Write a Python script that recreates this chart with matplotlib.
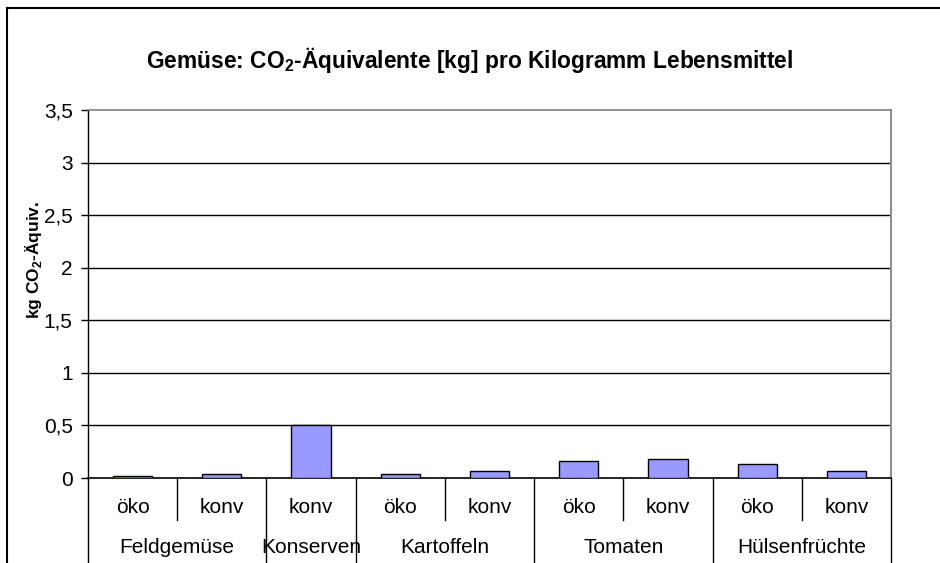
import numpy as np
import matplotlib.pyplot as plt
import matplotlib.transforms as mtransforms

plt.rcParams['font.family'] = ['Liberation Sans', 'DejaVu Sans']
plt.rcParams['mathtext.fontset'] = 'custom'
plt.rcParams['mathtext.rm'] = 'Liberation Sans'
plt.rcParams['mathtext.bf'] = 'Liberation Sans:bold'

# data
groups = ["Feldgemüse", "Konserven", "Kartoffeln", "Tomaten", "Hülsenfrüchte"]
group_sizes = [2, 1, 2, 2, 2]
sub_labels = ["öko", "konv", "konv", "öko", "konv", "öko", "konv", "öko", "konv"]
values = [0.015, 0.035, 0.5, 0.035, 0.07, 0.165, 0.185, 0.13, 0.07]
yticks = [0, 0.5, 1, 1.5, 2, 2.5, 3, 3.5]
ytick_labels = ["0", "0,5", "1", "1,5", "2", "2,5", "3", "3,5"]

W, H = 940, 563
fig = plt.figure(figsize=(W / 100, H / 100), dpi=100)
ax = fig.add_axes([88 / W, (H - 478) / H, (891 - 88) / W, (478 - 110) / H])

x = np.arange(len(values))
ax.bar(x, values, width=0.44, color="#9999FF", edgecolor="black", linewidth=1.0, zorder=3)

ax.set_xlim(-0.5, len(values) - 0.5)
ax.set_ylim(0, 3.5)
ax.set_yticks(yticks)
ax.set_yticklabels(ytick_labels, fontsize=15)
ax.tick_params(axis="y", direction="out", length=5, width=1, pad=6)
ax.set_xticks([])
for yv in yticks[1:-1]:
    ax.axhline(yv, color="black", linewidth=1.0, zorder=1)

ax.spines["left"].set_color("black")
ax.spines["bottom"].set_color("black")
ax.spines["left"].set_linewidth(1.0)
ax.spines["bottom"].set_linewidth(1.2)
ax.spines["top"].set_color("#808080")
ax.spines["right"].set_color("#909090")
ax.spines["top"].set_linewidth(1.2)
ax.spines["right"].set_linewidth(1.5)

# two-level category axis
trans = mtransforms.blended_transform_factory(ax.transData, ax.transAxes)
for xi, lab in zip(x, sub_labels):
    ax.text(xi, -0.079, lab, transform=trans, ha="center", va="center", fontsize=15)

start = 0
bounds = [-0.5]
for g, n in zip(groups, group_sizes):
    center = start + (n - 1) / 2
    ax.text(center, -0.19, g, transform=trans, ha="center", va="center", fontsize=15)
    for k in range(1, n):
        xs = start + k - 0.5
        ax.plot([xs, xs], [0, -0.115], transform=trans, color="black", lw=1.0, clip_on=False)
    start += n
    bounds.append(start - 0.5)
for xs in bounds:
    ax.plot([xs, xs], [0, -0.3], transform=trans, color="black", lw=1.0, clip_on=False)

fig.text(470 / W, 1 - 60 / H, r"Gemüse: CO$_\mathbf{2}$-Äquivalente [kg] pro Kilogramm Lebensmittel",
         ha="center", va="center", fontsize=16.4, fontweight="bold")
fig.text(33 / W, 1 - 260 / H, r"kg CO$_\mathbf{2}$-Äquiv.", rotation=90,
         ha="center", va="center", fontsize=12.5, fontweight="bold")

# outer chart frame (cropped on right and bottom)
fig.add_artist(plt.Line2D([7.5 / W, 7.5 / W], [0, 1 - 8 / H], transform=fig.transFigure, color="black", lw=1.5))
fig.add_artist(plt.Line2D([7.5 / W, 1], [1 - 8 / H, 1 - 8 / H], transform=fig.transFigure, color="black", lw=1.5))

fig.savefig("out.png", dpi=100)
